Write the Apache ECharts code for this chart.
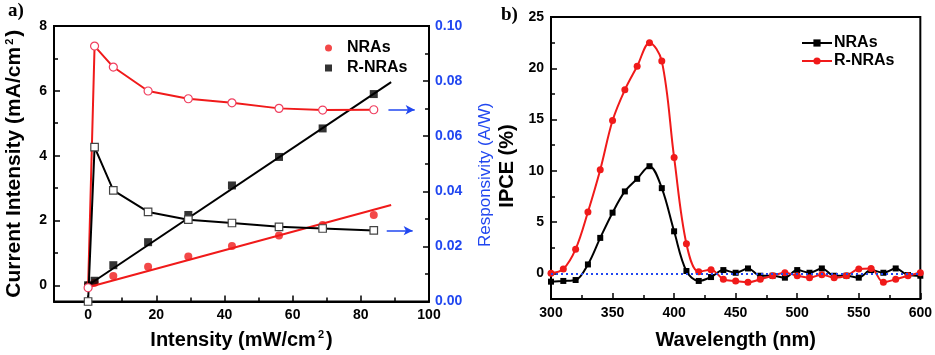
<!DOCTYPE html>
<html>
<head>
<meta charset="utf-8">
<script src="https://cdn.jsdelivr.net/npm/echarts@6/dist/echarts.min.js"></script>
<style>
  html, body { margin: 0; padding: 0; background: #fff; }
  #chart { width: 935px; height: 355px; }
</style>
</head>
<body>
<div id="chart"></div>
<script>
// panel a) light intensity (mW/cm2)
const intensity = [0, 1.9, 7.4, 17.6, 29.4, 42.2, 56, 68.8, 83.8]
const nraCurrent = [0, 0.08, 0.29, 0.57, 0.89, 1.21, 1.54, 1.86, 2.17]
const rnraCurrent = [0, 0.14, 0.62, 1.33, 2.17, 3.08, 3.96, 4.84, 5.9]
const nraResp = [0.005, 0.0927, 0.0851, 0.0764, 0.0736, 0.0721, 0.0701, 0.0695, 0.0696]
const rnraResp = [0, 0.056, 0.0403, 0.0325, 0.0297, 0.0285, 0.0271, 0.0265, 0.0258]
// linear fits of the current
const fitX = [0, 88.9]
const nraFit = [-0.06, 2.48]
const rnraFit = [0, 6.27]

// panel b) IPCE spectra
const wavelength = [300, 310, 320, 330, 340, 350, 360, 370, 380, 390, 400, 410, 420, 430, 440, 450,
  460, 470, 480, 490, 500, 510, 520, 530, 540, 550, 560, 570, 580, 590, 600]
const nraIpce = [-0.81, -0.74, -0.65, 0.87, 3.46, 5.92, 7.99, 9.22, 10.45, 8.31, 4.1, 0.23, -0.74, -0.36, 0.32, 0.06,
  0.48, -0.23, -0.23, -0.42, 0.32, 0.06, 0.48, -0.23, -0.23, -0.42, 0.32, 0.06, 0.48, -0.16, -0.23]
const rnraIpce = [0, 0.42, 2.36, 5.98, 10.1, 14.9, 17.9, 20.2, 22.5, 20.7, 11.3, 2.88, 0.16, 0.36, -0.58, -0.74,
  -0.87, -0.58, -0.23, 0.06, -0.23, -0.42, -0.13, -0.42, -0.23, 0.42, 0.48, -0.87, -0.58, -0.23, 0.06]

const RED = '#f01a1a'
const BLUE = '#2147f0'
const FONT = 'Liberation Sans, Arial, sans-serif'

function pairs(xs, ys) {
  return xs.map((x, i) => [x, ys[i]])
}

const tickLabel = {
  fontFamily: FONT, fontSize: 14, fontWeight: 'bold', color: '#000', margin: 7
}
const axisLine = { show: true, onZero: false, lineStyle: { color: '#000', width: 2 } }
const axisTick = { show: true, inside: true, length: 6, lineStyle: { color: '#000', width: 1.5 } }
const minorTick = { show: true, splitNumber: 2, length: 4, lineStyle: { color: '#000', width: 1.5 } }
const nameStyle = {
  fontFamily: FONT, fontSize: 20, fontWeight: 'bold', color: '#000',
  rich: { sup: { fontFamily: FONT, fontSize: 11, fontWeight: 'bold', color: '#000', verticalAlign: 'top', padding: [0, 2, 10, 2] } }
}

const chart = echarts.init(document.getElementById('chart'))
chart.setOption({
  animation: false,
  backgroundColor: '#fff',
  graphic: [
    { type: 'text', left: 8, top: 2, style: { text: 'a)', font: 'bold 19px "Liberation Serif", "Times New Roman", serif', fill: '#000' } },
    { type: 'text', left: 501, top: 6, style: { text: 'b)', font: 'bold 19px "Liberation Serif", "Times New Roman", serif', fill: '#000' } }
  ],
  grid: [
    { left: 54, top: 26, width: 375, height: 279, show: true, borderColor: '#000', borderWidth: 2 },
    { left: 551, top: 17, width: 371, height: 283, show: true, borderColor: '#000', borderWidth: 2 }
  ],
  legend: [
    {
      left: 320, top: 35, orient: 'vertical', itemGap: 4, itemWidth: 7, itemHeight: 7,
      data: ['NRAs', 'R-NRAs'],
      textStyle: { fontFamily: FONT, fontSize: 16, fontWeight: 'bold', color: '#000', padding: [0, 0, 0, 10] }
    },
    {
      left: 796, top: 30, orient: 'vertical', itemGap: 2, itemWidth: 30, itemHeight: 9,
      data: ['NRAs ', 'R-NRAs '],
      formatter: name => name.trim(),
      textStyle: { fontFamily: FONT, fontSize: 16, fontWeight: 'bold', color: '#000', padding: [0, 0, 0, -3] }
    }
  ],
  xAxis: [
    {
      gridIndex: 0, type: 'value', min: -10, max: 100, splitNumber: 5,
      name: 'Intensity (mW/cm{sup|2})', nameLocation: 'middle', nameGap: 28, nameTextStyle: nameStyle,
      axisLine, axisTick, minorTick, splitLine: { show: false },
      axisLabel: Object.assign({}, tickLabel, { formatter: v => (v % 20 === 0 ? String(v) : '') })
    },
    {
      gridIndex: 1, type: 'value', min: 300, max: 600, interval: 50,
      name: 'Wavelength (nm)', nameLocation: 'middle', nameGap: 31, nameTextStyle: nameStyle,
      axisLine, axisTick, minorTick, splitLine: { show: false },
      axisLabel: tickLabel
    }
  ],
  yAxis: [
    {
      gridIndex: 0, type: 'value', min: -0.5, max: 8, splitNumber: 4,
      name: 'Current Intensity (mA/cm{sup|2})', nameLocation: 'middle', nameGap: 29, nameTextStyle: Object.assign({}, nameStyle, { fontSize: 21 }),
      axisLine, axisTick, minorTick, splitLine: { show: false },
      axisLabel: Object.assign({}, tickLabel, { formatter: v => (v % 2 === 0 ? String(v) : '') })
    },
    {
      gridIndex: 0, type: 'value', position: 'right', min: 0, max: 0.1, interval: 0.02,
      name: 'Responsivity (A/W)', nameLocation: 'middle', nameGap: 48, nameRotate: 90,
      nameTextStyle: { fontFamily: FONT, fontSize: 17, color: BLUE, padding: [0, 0, 0, -22] },
      axisLine, axisTick, minorTick, splitLine: { show: false },
      axisLabel: Object.assign({}, tickLabel, { color: BLUE, margin: 6, formatter: v => v.toFixed(2) })
    },
    {
      gridIndex: 1, type: 'value', min: -2.5, max: 25, splitNumber: 5,
      name: 'IPCE (%)', nameLocation: 'middle', nameGap: 34, nameTextStyle: Object.assign({}, nameStyle, { padding: [0, 0, 0, -16] }),
      axisLine, axisTick, minorTick, splitLine: { show: false },
      axisLabel: Object.assign({}, tickLabel, { formatter: v => (v % 5 === 0 ? String(v) : '') })
    }
  ],
  series: [
    {
      name: 'NRAs fit', type: 'line', xAxisIndex: 0, yAxisIndex: 0, data: pairs(fitX, nraFit),
      showSymbol: false, lineStyle: { color: RED, width: 2 }, silent: true
    },
    {
      name: 'R-NRAs fit', type: 'line', xAxisIndex: 0, yAxisIndex: 0, data: pairs(fitX, rnraFit),
      showSymbol: false, lineStyle: { color: '#000', width: 2 }, silent: true
    },
    {
      name: 'NRAs resp', type: 'line', xAxisIndex: 0, yAxisIndex: 1, data: pairs(intensity, nraResp),
      symbol: 'circle', symbolSize: 8,
      lineStyle: { color: RED, width: 2 },
      itemStyle: { color: '#fff', borderColor: '#f04060', borderWidth: 1.2 },
      markLine: {
        silent: true, symbol: ['none', 'arrow'], symbolSize: [7, 9],
        lineStyle: { color: BLUE, width: 1.5, type: 'solid' }, label: { show: false },
        data: [[{ coord: [88.1, 0.0696] }, { coord: [95.8, 0.0696] }]]
      }
    },
    {
      name: 'R-NRAs resp', type: 'line', xAxisIndex: 0, yAxisIndex: 1, data: pairs(intensity, rnraResp),
      symbol: 'rect', symbolSize: 7.5,
      lineStyle: { color: '#000', width: 2 },
      itemStyle: { color: '#fff', borderColor: '#444', borderWidth: 1.2 },
      markLine: {
        silent: true, symbol: ['none', 'arrow'], symbolSize: [7, 9],
        lineStyle: { color: BLUE, width: 1.5, type: 'solid' }, label: { show: false },
        data: [[{ coord: [87.6, 0.0257] }, { coord: [95.2, 0.0257] }]]
      }
    },
    {
      name: 'NRAs', type: 'scatter', xAxisIndex: 0, yAxisIndex: 0, data: pairs(intensity, nraCurrent),
      symbol: 'circle', symbolSize: 8, itemStyle: { color: RED }
    },
    {
      name: 'R-NRAs', type: 'scatter', xAxisIndex: 0, yAxisIndex: 0, data: pairs(intensity, rnraCurrent),
      symbol: 'rect', symbolSize: 8, itemStyle: { color: '#000' }
    },
    {
      name: 'NRAs ', type: 'line', xAxisIndex: 1, yAxisIndex: 2, data: pairs(wavelength, nraIpce),
      smooth: 0.35, symbol: 'rect', symbolSize: 6,
      lineStyle: { color: '#000', width: 2 }, itemStyle: { color: '#000' },
      markLine: {
        silent: true, symbol: 'none', label: { show: false },
        lineStyle: { color: BLUE, width: 2, type: [2, 3] },
        data: [{ yAxis: 0 }]
      }
    },
    {
      name: 'R-NRAs ', type: 'line', xAxisIndex: 1, yAxisIndex: 2, data: pairs(wavelength, rnraIpce),
      smooth: 0.35, symbol: 'circle', symbolSize: 7,
      lineStyle: { color: RED, width: 2 }, itemStyle: { color: RED }
    }
  ]
})
</script>
</body>
</html>
